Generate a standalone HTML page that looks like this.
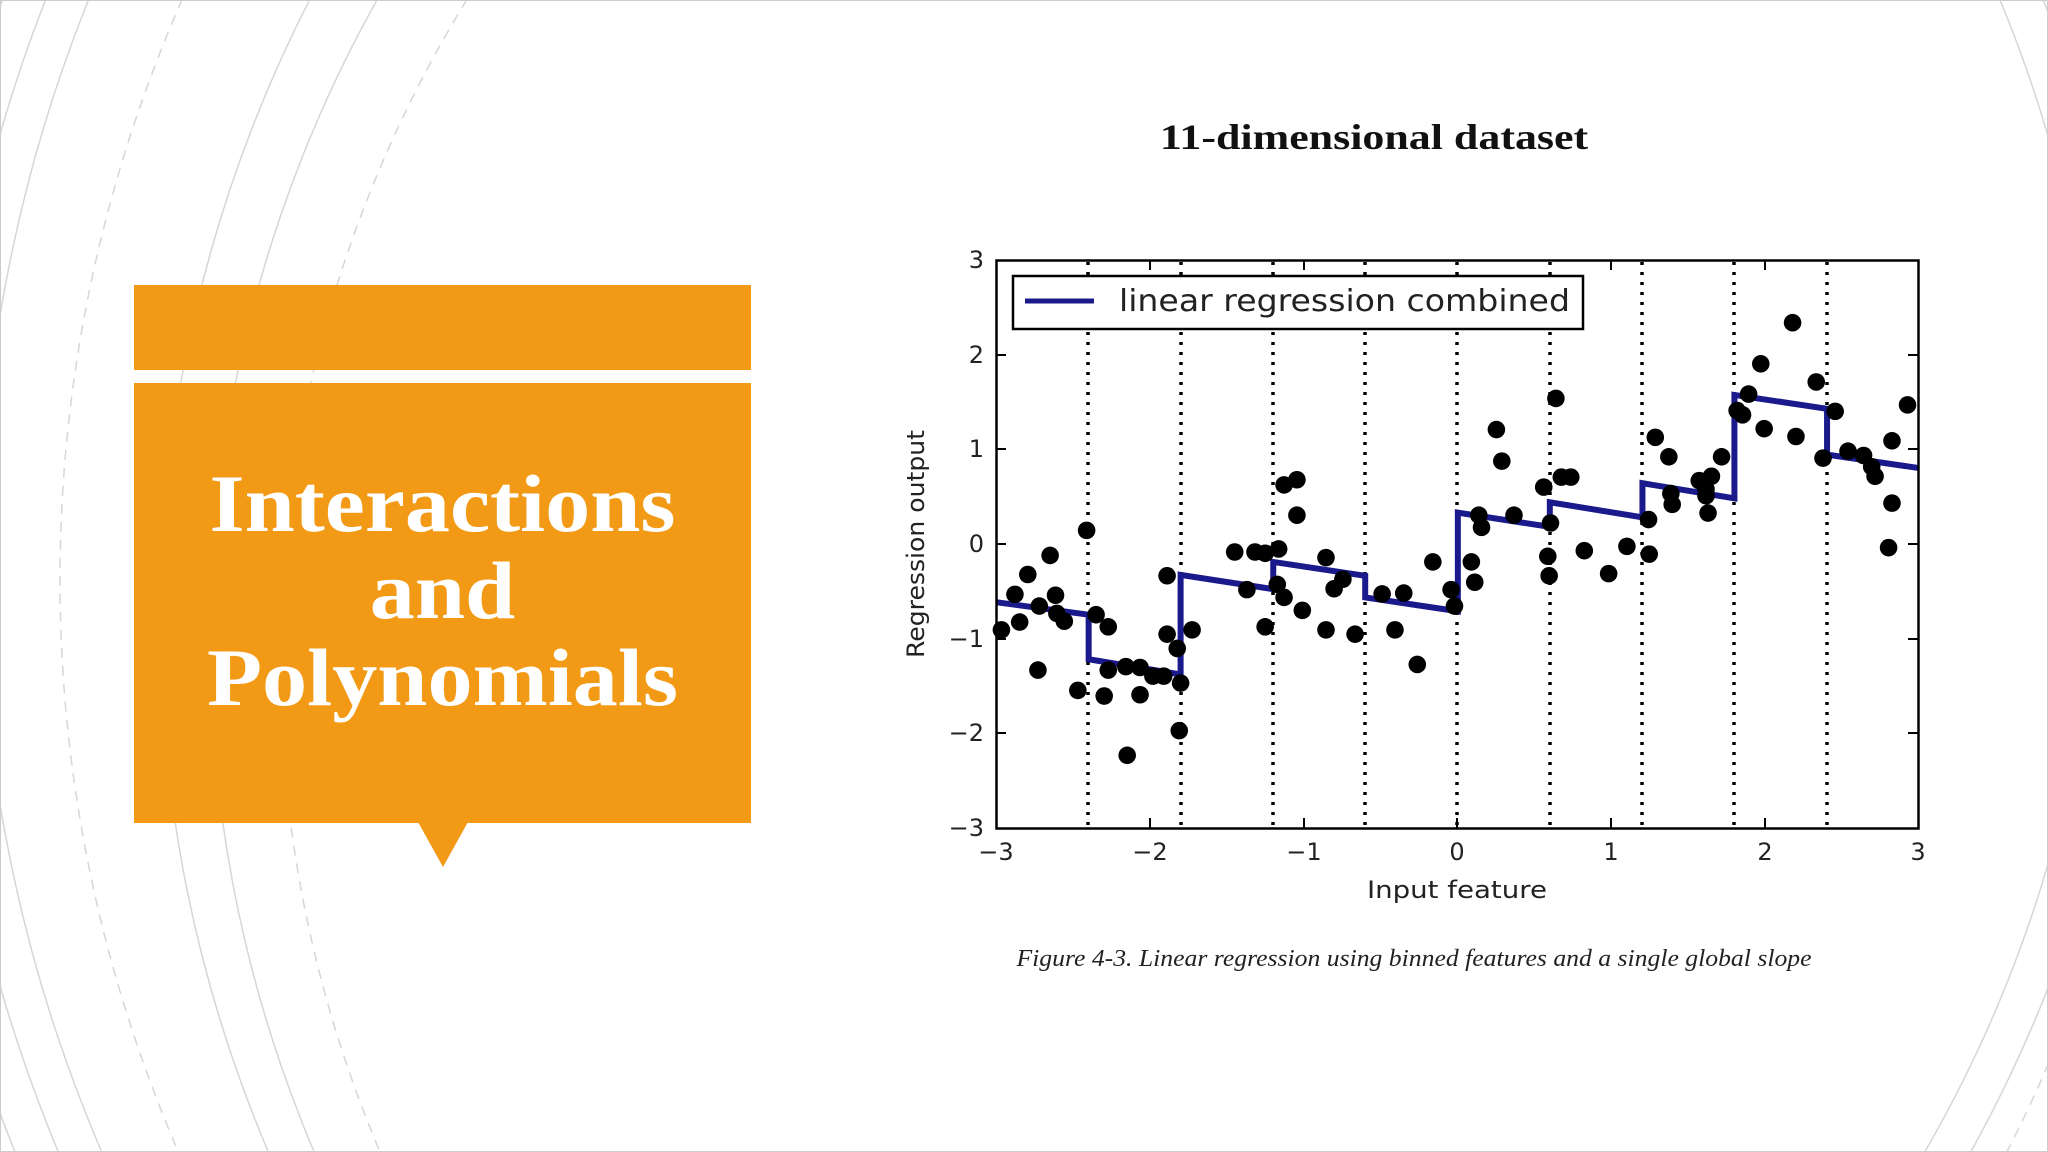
<!DOCTYPE html>
<html><head><meta charset="utf-8"><style>
html,body{margin:0;padding:0;background:#fff;width:2048px;height:1152px;overflow:hidden;}
body{position:relative;font-family:"Liberation Sans",sans-serif;}
.box{position:absolute;background:#F29A16;}
.t{position:absolute;white-space:nowrap;}
</style></head><body>
<svg width="2048" height="1152" style="position:absolute;left:0;top:0">
<g fill="none" stroke="#d6d6d6" stroke-width="1.5">
<circle cx="1480" cy="560" r="1500"/>
<circle cx="1480" cy="560" r="1540"/>
<circle cx="1480" cy="560" r="1580"/>
<circle cx="1500" cy="580" r="1440" stroke-dasharray="10 8"/>
<circle cx="1520" cy="620" r="1360"/>
<circle cx="1520" cy="640" r="1310"/>
<circle cx="1540" cy="660" r="1260" stroke-dasharray="10 8"/>
<circle cx="800" cy="500" r="1300"/>
<circle cx="800" cy="500" r="1340"/>
<circle cx="780" cy="520" r="1380" stroke-dasharray="10 8"/>
</g>
<rect x="0.5" y="0.5" width="2047" height="1151" fill="none" stroke="#ccc"/>
</svg>
<div class="box" style="left:134px;top:285px;width:617px;height:85px"></div>
<div class="box" style="left:134px;top:383px;width:617px;height:440px"></div>
<svg width="2048" height="1152" style="position:absolute;left:0;top:0">
<polygon points="418,822 468,822 443,867" fill="#F29A16"/>
</svg>
<div class="t" style="left:134px;width:617px;top:460px;text-align:center;color:#fff;font-family:'Liberation Serif',serif;font-weight:bold;font-size:82px;line-height:87px;transform:scaleX(1.1);">Interactions<br>and<br>Polynomials</div>
<div class="t" style="left:1074px;width:600px;top:116px;text-align:center;font-family:'Liberation Serif',serif;font-weight:bold;font-size:36px;color:#111;transform:scaleX(1.22)">11-dimensional dataset</div>
<div class="t" style="left:1014px;width:800px;top:946px;text-align:center;font-family:'Liberation Serif',serif;font-style:italic;font-size:24px;color:#222;transform:scaleX(1.07)">Figure 4-3. Linear regression using binned features and a single global slope</div>

<svg width="2048" height="1152" style="position:absolute;left:0;top:0" font-family="DejaVu Sans, Liberation Sans, sans-serif">
<g stroke="#000" stroke-width="3.5" stroke-dasharray="3 7">
<line x1="1088" y1="262" x2="1088" y2="826"/>
<line x1="1181" y1="262" x2="1181" y2="826"/>
<line x1="1273" y1="262" x2="1273" y2="826"/>
<line x1="1365" y1="262" x2="1365" y2="826"/>
<line x1="1457" y1="262" x2="1457" y2="826"/>
<line x1="1550" y1="262" x2="1550" y2="826"/>
<line x1="1642" y1="262" x2="1642" y2="826"/>
<line x1="1734" y1="262" x2="1734" y2="826"/>
<line x1="1827" y1="262" x2="1827" y2="826"/>
</g>
<g transform="translate(879.7,229.7) scale(0.6762,0.4326)">
<polyline fill="none" stroke="#1a1a8c" stroke-width="6" vector-effect="non-scaling-stroke" points="172,861 309,890 309,993 445,1028 445,798 582,831 582,768 718,800 718,850 855,882 855,654 991,687 991,630 1128,665 1128,586 1264,621 1264,382 1401,414 1401,520 1537,551"/>
<g fill="#000">
<ellipse rx="13" ry="20.3" cx="180" cy="925"/><ellipse rx="13" ry="20.3" cx="200" cy="843"/><ellipse rx="13" ry="20.3" cx="207" cy="907"/><ellipse rx="13" ry="20.3" cx="219" cy="797"/><ellipse rx="13" ry="20.3" cx="236" cy="870"/><ellipse rx="13" ry="20.3" cx="252" cy="753"/><ellipse rx="13" ry="20.3" cx="260" cy="845"/><ellipse rx="13" ry="20.3" cx="262" cy="887"/><ellipse rx="13" ry="20.3" cx="273" cy="905"/><ellipse rx="13" ry="20.3" cx="234" cy="1018"/><ellipse rx="13" ry="20.3" cx="306" cy="695"/><ellipse rx="13" ry="20.3" cx="320" cy="890"/><ellipse rx="13" ry="20.3" cx="338" cy="918"/><ellipse rx="13" ry="20.3" cx="338" cy="1018"/><ellipse rx="13" ry="20.3" cx="332" cy="1078"/><ellipse rx="13" ry="20.3" cx="293" cy="1065"/><ellipse rx="13" ry="20.3" cx="364" cy="1010"/><ellipse rx="13" ry="20.3" cx="366" cy="1215"/><ellipse rx="13" ry="20.3" cx="385" cy="1012"/><ellipse rx="13" ry="20.3" cx="385" cy="1075"/><ellipse rx="13" ry="20.3" cx="404" cy="1032"/><ellipse rx="13" ry="20.3" cx="420" cy="1032"/><ellipse rx="13" ry="20.3" cx="425" cy="935"/><ellipse rx="13" ry="20.3" cx="425" cy="800"/><ellipse rx="13" ry="20.3" cx="440" cy="968"/><ellipse rx="13" ry="20.3" cx="445" cy="1048"/><ellipse rx="13" ry="20.3" cx="443" cy="1158"/><ellipse rx="13" ry="20.3" cx="462" cy="925"/><ellipse rx="13" ry="20.3" cx="525" cy="745"/><ellipse rx="13" ry="20.3" cx="543" cy="832"/><ellipse rx="13" ry="20.3" cx="555" cy="745"/><ellipse rx="13" ry="20.3" cx="570" cy="918"/><ellipse rx="13" ry="20.3" cx="570" cy="748"/><ellipse rx="13" ry="20.3" cx="590" cy="738"/><ellipse rx="13" ry="20.3" cx="588" cy="820"/><ellipse rx="13" ry="20.3" cx="598" cy="850"/><ellipse rx="13" ry="20.3" cx="598" cy="590"/><ellipse rx="13" ry="20.3" cx="617" cy="578"/><ellipse rx="13" ry="20.3" cx="617" cy="660"/><ellipse rx="13" ry="20.3" cx="625" cy="880"/><ellipse rx="13" ry="20.3" cx="660" cy="758"/><ellipse rx="13" ry="20.3" cx="660" cy="925"/><ellipse rx="13" ry="20.3" cx="672" cy="830"/><ellipse rx="13" ry="20.3" cx="685" cy="808"/><ellipse rx="13" ry="20.3" cx="703" cy="935"/><ellipse rx="13" ry="20.3" cx="743" cy="842"/><ellipse rx="13" ry="20.3" cx="762" cy="925"/><ellipse rx="13" ry="20.3" cx="775" cy="840"/><ellipse rx="13" ry="20.3" cx="795" cy="1005"/><ellipse rx="13" ry="20.3" cx="818" cy="768"/><ellipse rx="13" ry="20.3" cx="845" cy="832"/><ellipse rx="13" ry="20.3" cx="850" cy="870"/><ellipse rx="13" ry="20.3" cx="875" cy="768"/><ellipse rx="13" ry="20.3" cx="880" cy="815"/><ellipse rx="13" ry="20.3" cx="886" cy="660"/><ellipse rx="13" ry="20.3" cx="890" cy="688"/><ellipse rx="13" ry="20.3" cx="912" cy="462"/><ellipse rx="13" ry="20.3" cx="920" cy="535"/><ellipse rx="13" ry="20.3" cx="938" cy="660"/><ellipse rx="13" ry="20.3" cx="982" cy="595"/><ellipse rx="13" ry="20.3" cx="988" cy="755"/><ellipse rx="13" ry="20.3" cx="990" cy="800"/><ellipse rx="13" ry="20.3" cx="992" cy="678"/><ellipse rx="13" ry="20.3" cx="1000" cy="390"/><ellipse rx="13" ry="20.3" cx="1008" cy="572"/><ellipse rx="13" ry="20.3" cx="1022" cy="572"/><ellipse rx="13" ry="20.3" cx="1042" cy="742"/><ellipse rx="13" ry="20.3" cx="1078" cy="795"/><ellipse rx="13" ry="20.3" cx="1105" cy="732"/><ellipse rx="13" ry="20.3" cx="1137" cy="670"/><ellipse rx="13" ry="20.3" cx="1138" cy="750"/><ellipse rx="13" ry="20.3" cx="1147" cy="480"/><ellipse rx="13" ry="20.3" cx="1167" cy="525"/><ellipse rx="13" ry="20.3" cx="1170" cy="610"/><ellipse rx="13" ry="20.3" cx="1172" cy="635"/><ellipse rx="13" ry="20.3" cx="1212" cy="580"/><ellipse rx="13" ry="20.3" cx="1222" cy="600"/><ellipse rx="13" ry="20.3" cx="1225" cy="655"/><ellipse rx="13" ry="20.3" cx="1230" cy="570"/><ellipse rx="13" ry="20.3" cx="1222" cy="615"/><ellipse rx="13" ry="20.3" cx="1245" cy="525"/><ellipse rx="13" ry="20.3" cx="1268" cy="418"/><ellipse rx="13" ry="20.3" cx="1276" cy="428"/><ellipse rx="13" ry="20.3" cx="1285" cy="380"/><ellipse rx="13" ry="20.3" cx="1303" cy="310"/><ellipse rx="13" ry="20.3" cx="1308" cy="460"/><ellipse rx="13" ry="20.3" cx="1350" cy="215"/><ellipse rx="13" ry="20.3" cx="1355" cy="478"/><ellipse rx="13" ry="20.3" cx="1385" cy="352"/><ellipse rx="13" ry="20.3" cx="1395" cy="528"/><ellipse rx="13" ry="20.3" cx="1413" cy="420"/><ellipse rx="13" ry="20.3" cx="1432" cy="512"/><ellipse rx="13" ry="20.3" cx="1455" cy="522"/><ellipse rx="13" ry="20.3" cx="1467" cy="548"/><ellipse rx="13" ry="20.3" cx="1472" cy="570"/><ellipse rx="13" ry="20.3" cx="1492" cy="735"/><ellipse rx="13" ry="20.3" cx="1497" cy="632"/><ellipse rx="13" ry="20.3" cx="1497" cy="488"/><ellipse rx="13" ry="20.3" cx="1520" cy="405"/>
</g></g>
<rect x="996.5" y="260.5" width="922" height="568" fill="none" stroke="#000" stroke-width="2.5"/>
<g stroke="#000" stroke-width="2">
<line x1="996" y1="355" x2="1006" y2="355"/><line x1="996" y1="449" x2="1006" y2="449"/><line x1="996" y1="544" x2="1006" y2="544"/><line x1="996" y1="639" x2="1006" y2="639"/><line x1="996" y1="733" x2="1006" y2="733"/>
<line x1="1908" y1="355" x2="1918" y2="355"/><line x1="1908" y1="449" x2="1918" y2="449"/><line x1="1908" y1="544" x2="1918" y2="544"/><line x1="1908" y1="639" x2="1918" y2="639"/><line x1="1908" y1="733" x2="1918" y2="733"/>
<line x1="1150" y1="828" x2="1150" y2="818"/><line x1="1304" y1="828" x2="1304" y2="818"/><line x1="1457" y1="828" x2="1457" y2="818"/><line x1="1611" y1="828" x2="1611" y2="818"/><line x1="1765" y1="828" x2="1765" y2="818"/>
<line x1="1150" y1="260" x2="1150" y2="270"/><line x1="1304" y1="260" x2="1304" y2="270"/><line x1="1611" y1="260" x2="1611" y2="270"/><line x1="1765" y1="260" x2="1765" y2="270"/>
</g>
<rect x="1013" y="276" width="570" height="53" fill="#fff" stroke="#000" stroke-width="2.5"/>
<line x1="1025" y1="301" x2="1094" y2="301" stroke="#1a1a8c" stroke-width="5"/>
<text x="1119" y="311" font-size="30" fill="#222" textLength="451" lengthAdjust="spacingAndGlyphs">linear regression combined</text>
<g font-size="24" fill="#222" text-anchor="end">
<text x="984" y="268">3</text><text x="984" y="363">2</text><text x="984" y="457">1</text><text x="984" y="552">0</text><text x="984" y="647">−1</text><text x="984" y="741">−2</text><text x="984" y="836">−3</text>
</g>
<g font-size="24" fill="#222" text-anchor="middle">
<text x="996" y="860">−3</text><text x="1150" y="860">−2</text><text x="1304" y="860">−1</text><text x="1457" y="860">0</text><text x="1611" y="860">1</text><text x="1765" y="860">2</text><text x="1918" y="860">3</text>
<text x="1457" y="898" textLength="180" lengthAdjust="spacingAndGlyphs">Input feature</text>
<text transform="translate(924,544) rotate(-90)" textLength="228" lengthAdjust="spacingAndGlyphs">Regression output</text>
</g>
</svg>
</body></html>
